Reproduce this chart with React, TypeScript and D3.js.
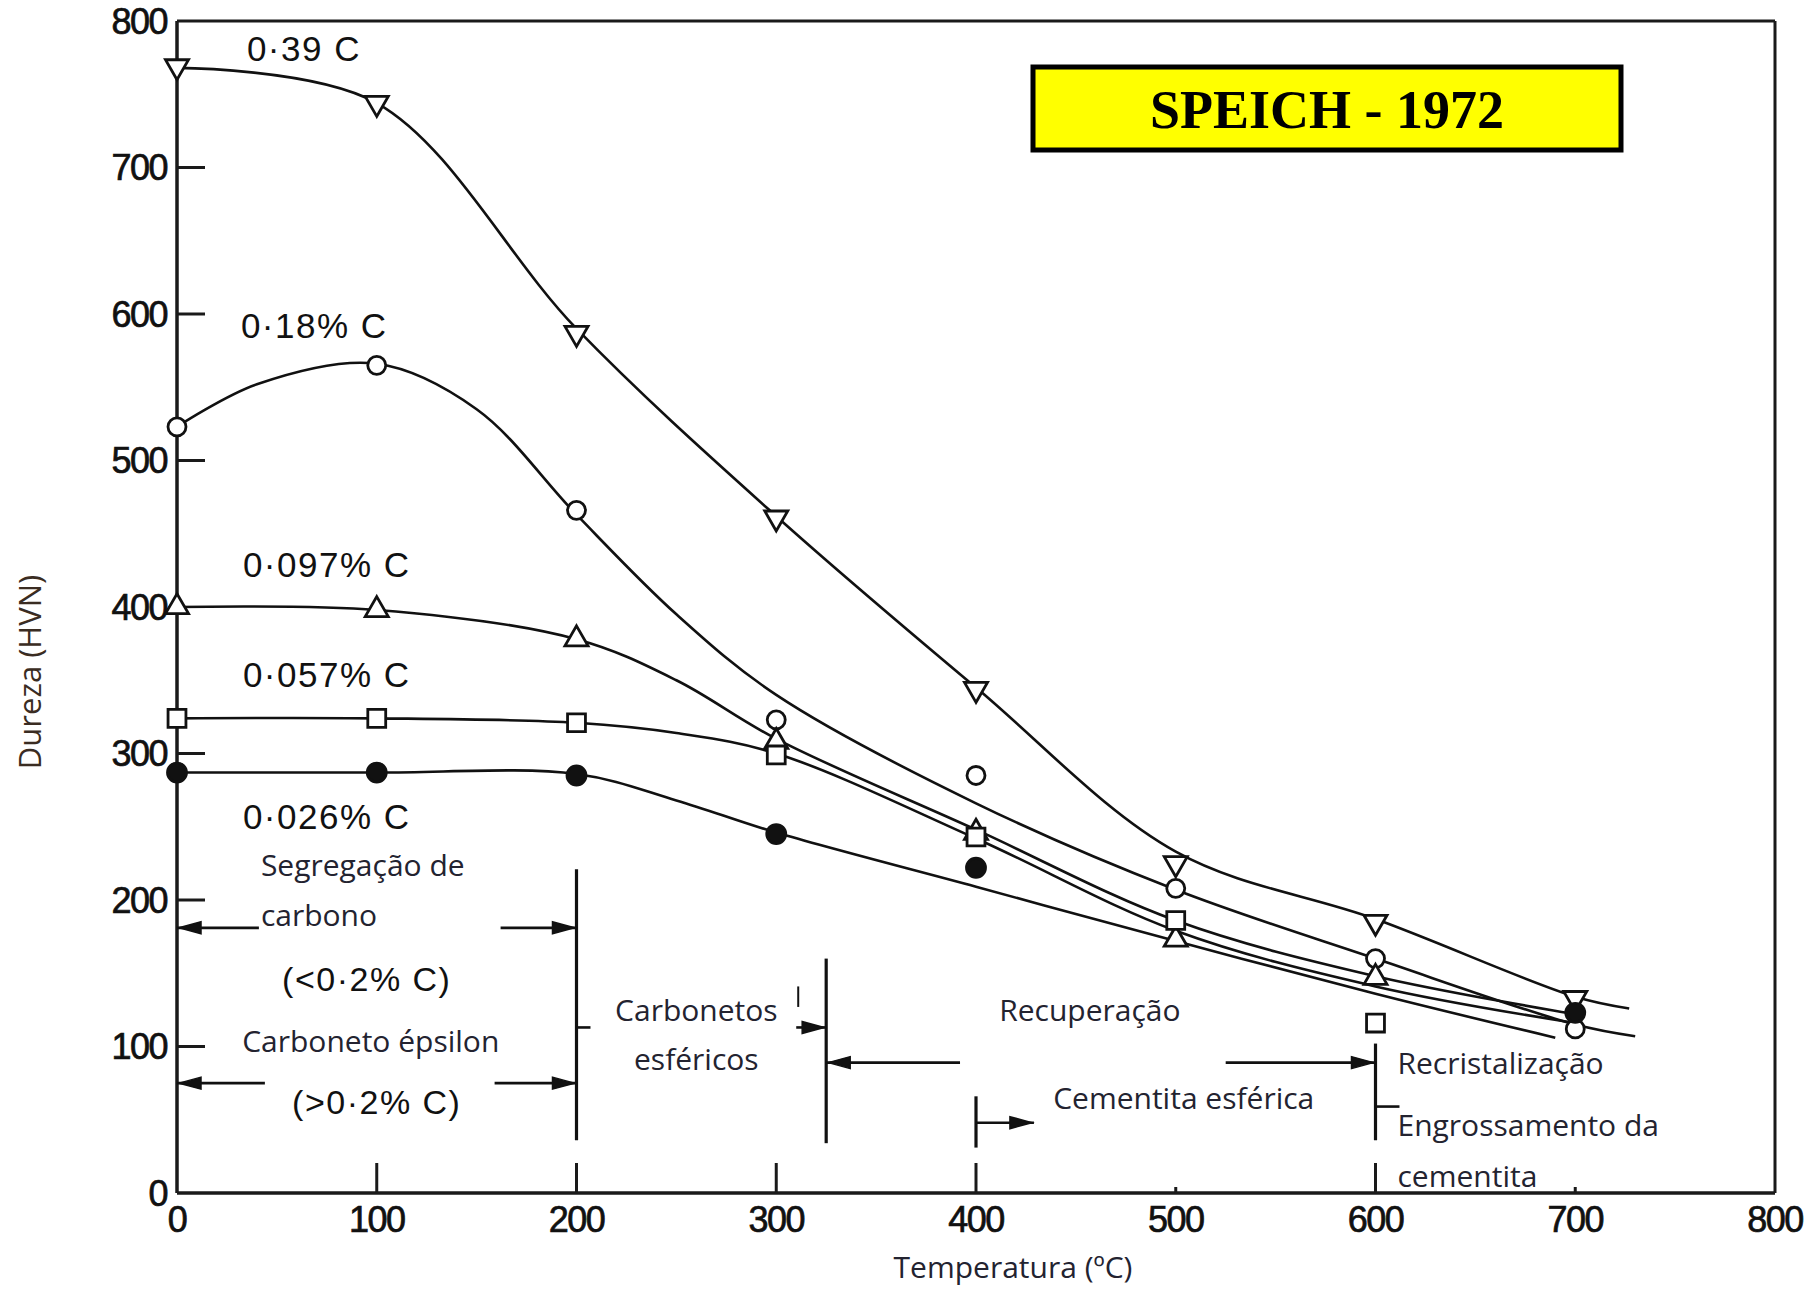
import React from "react";
import * as d3 from "d3";

// ---------- data ----------
const xTicks = [0, 100, 200, 300, 400, 500, 600, 700, 800];
const yTicks = [0, 100, 200, 300, 400, 500, 600, 700, 800];

const temps = [0, 100, 200, 300, 400, 500, 600, 700];
// marker values (HVN) per steel; null = no marker visible
const hv039 = [769, 744, 587, 461, 344, 225, 185, 133];
const hv018 = [523, 565, 466, 323, 285, 208, 160, 112];
const hv0097 = [400, 398, 378, 308, 246, 173, 147, null];
const hv0057 = [324, 324, 321, 299, 243, 186, 116, null];
const hv0026 = [287, 287, 285, 245, 222, null, null, 123];

// fitted curves (temperature, HVN)
const curve039: [number, number][] = [[0, 768], [100, 744], [200, 590], [300, 462], [400, 345], [500, 233], [600, 187], [700, 134], [727, 126]];
const curve018: [number, number][] = [[0, 523], [40, 552], [100, 566], [150, 535], [200, 463], [250, 395], [300, 340], [400, 266], [500, 207], [600, 160], [700, 115], [730, 107]];
const curve0097: [number, number][] = [[0, 400], [100, 398], [200, 378], [250, 350], [300, 310], [400, 248], [500, 186], [600, 148], [700, 122]];
const curve0057: [number, number][] = [[0, 324], [100, 324], [200, 321], [250, 314], [300, 300], [400, 242], [500, 179], [600, 141], [700, 116]];
const curve0026: [number, number][] = [[0, 287], [100, 287], [200, 286], [250, 268], [300, 246], [400, 209], [500, 172], [600, 136], [690, 106]];

const seriesNames = ["0·39 C", "0·18% C", "0·097% C", "0·057% C", "0·026% C"];
const seriesLabelAt: [number, number][] = [[35, 781], [32, 592], [33, 429], [33, 354], [33, 257]];

// annotation bars (temperature, hv from, hv to)
const vBars: [number, number, number][] = [[200, 36, 221], [325, 34, 160], [400, 31, 66], [600, 36, 102], [311, 127, 141]];
// arrows: [x from, x to, hv, head at "start" | "end" | "none"]
const arrows: [number, number, number, string][] = [
  [0, 41, 181, "start"], [162, 200, 181, "end"],
  [0, 44, 75, "start"], [159, 200, 75, "end"],
  [200, 207, 113, "none"], [310, 325, 113, "end"],
  [325, 392, 89, "start"], [400, 429, 48, "end"],
  [525, 600, 89, "end"], [600, 612, 59, "none"],
];
// texts: [text, temp, hv, anchor, font]
const notes: [string, number, number, string, string][] = [
  ["Segregação de", 42, 224, "start", "sans"],
  ["carbono", 42, 190, "start", "sans"],
  ["(<0·2% C)", 95, 146, "middle", "helv"],
  ["Carboneto épsilon", 97, 104, "middle", "sans"],
  ["(>0·2% C)", 100, 62, "middle", "helv"],
  ["Carbonetos", 260, 125, "middle", "sans"],
  ["esféricos", 260, 92, "middle", "sans"],
  ["Recuperação", 457, 125, "middle", "sans"],
  ["Cementita esférica", 504, 65, "middle", "sans"],
  ["Recristalização", 611, 89, "start", "sans"],
  ["Engrossamento da", 611, 47, "start", "sans"],
  ["cementita", 611, 12, "start", "sans"],
];

const W = 1816;
const H = 1291;

export default function App() {
  const x = d3.scaleLinear().domain([0, 800]).range([177, 1775]);
  const y = d3.scaleLinear().domain([0, 800]).range([1193, 21]);
  const line = d3
    .line<[number, number]>()
    .x((d) => x(d[0]))
    .y((d) => y(d[1]))
    .curve(d3.curveCatmullRom.alpha(0.5));

  const curves = [curve039, curve018, curve0097, curve0057, curve0026];
  const markers = [hv039, hv018, hv0097, hv0057, hv0026];
  const kinds = ["down", "circle", "up", "square", "filled"];

  const triPath = d3.symbol(d3.symbolTriangle, 230)()!;
  const sqPath = d3.symbol(d3.symbolSquare, 320)()!;

  const helv = "'Liberation Sans', Arial, sans-serif";
  const sans = "'Open Sans', 'Noto Sans', sans-serif";
  const txtCol = "#232330";

  const renderMarker = (kind: string, cx: number, cy: number, key: string) => {
    const common = { stroke: "#111", strokeWidth: 2.8 };
    if (kind === "circle")
      return <circle key={key} cx={cx} cy={cy} r={9} fill="#fff" {...common} />;
    if (kind === "filled")
      return <circle key={key} cx={cx} cy={cy} r={9.5} fill="#111" {...common} />;
    if (kind === "square")
      return <path key={key} d={sqPath} transform={`translate(${cx},${cy})`} fill="#fff" {...common} />;
    if (kind === "up")
      return <path key={key} d={triPath} transform={`translate(${cx},${cy})`} fill="#fff" {...common} />;
    return <path key={key} d={triPath} transform={`translate(${cx},${cy}) rotate(180)`} fill="#fff" {...common} />;
  };

  const arrowHead = (tipX: number, tipY: number, dir: number, key: string) => {
    const len = 22;
    const hw = 6;
    const p = `M${tipX},${tipY} L${tipX + dir * len},${tipY - hw} L${tipX + dir * len},${tipY + hw} Z`;
    return <path key={key} d={p} fill="#111" stroke="#111" strokeWidth={1.5} />;
  };

  return (
    <svg
      width={W}
      height={H}
      viewBox={`0 0 ${W} ${H}`}
      style={{ position: "absolute", left: 0, top: 0, background: "#fff" }}
    >
      <rect x={0} y={0} width={W} height={H} fill="#fff" />

      {/* frame / axes */}
      <g stroke="#1a1a1a" fill="none">
        <line x1={x(0)} y1={y(0)} x2={x(800)} y2={y(0)} strokeWidth={3.5} />
        <line x1={x(0)} y1={y(0)} x2={x(0)} y2={y(800)} strokeWidth={3.5} />
        <line x1={x(0)} y1={y(800)} x2={x(800)} y2={y(800)} strokeWidth={3} />
        <line x1={x(800)} y1={y(800)} x2={x(800)} y2={y(0)} strokeWidth={3} />
        {yTicks
          .filter((t) => t > 0 && t < 800 && t !== 400)
          .map((t) => (
            <line key={"yt" + t} x1={x(0)} y1={y(t)} x2={x(0) + 28} y2={y(t)} strokeWidth={3} />
          ))}
        {xTicks
          .filter((t) => t > 0 && t < 800)
          .map((t) => (
            <line
              key={"xt" + t}
              x1={x(t)}
              y1={y(0)}
              x2={x(t)}
              y2={y(0) - (t === 500 || t === 700 ? 6 : 30)}
              strokeWidth={3}
            />
          ))}
      </g>

      {/* tick labels */}
      <g fontFamily={helv} fontSize={36} fill="#111" stroke="#111" strokeWidth={0.7} letterSpacing={-1.5}>
        {yTicks.map((t) => (
          <text key={"yl" + t} x={x(0) - 10} y={y(t)} textAnchor="end" dominantBaseline="central">
            {t}
          </text>
        ))}
        {xTicks.map((t) => (
          <text key={"xl" + t} x={x(t)} y={y(0) + 26} textAnchor="middle" dominantBaseline="central">
            {t}
          </text>
        ))}
      </g>

      {/* axis titles */}
      <text
        x={29}
        y={672}
        transform="rotate(-90 29 672)"
        textAnchor="middle"
        dominantBaseline="central"
        fontFamily={sans}
        fontSize={31}
        fill="#3a2c22"
      >
        Dureza (HVN)
      </text>
      <text x={1013} y={1266} textAnchor="middle" dominantBaseline="central" fontFamily={sans} fontSize={30} fill={txtCol}>
        Temperatura (ºC)
      </text>

      {/* curves */}
      <g fill="none" stroke="#111" strokeWidth={2.6}>
        {curves.map((c, i) => (
          <path key={"c" + i} d={line(c) || ""} />
        ))}
      </g>

      {/* markers */}
      <g>
        {markers.map((arr, si) =>
          arr.map((v, ti) => (v == null ? null : renderMarker(kinds[si], x(temps[ti]), y(v), `m${si}-${ti}`)))
        )}
      </g>

      {/* series labels */}
      <g fontFamily={helv} fontSize={35} fill="#111" letterSpacing={1.5}>
        {seriesNames.map((s, i) => (
          <text key={"sl" + i} x={x(seriesLabelAt[i][0])} y={y(seriesLabelAt[i][1])} dominantBaseline="central">
            {s}
          </text>
        ))}
      </g>

      {/* annotation bars and arrows */}
      <g stroke="#111" fill="none">
        {vBars.map((b, i) => (
          <line key={"vb" + i} x1={x(b[0])} y1={y(b[1])} x2={x(b[0])} y2={y(b[2])} strokeWidth={i === 4 ? 2 : 3.2} />
        ))}
        {arrows.map((a, i) => (
          <line key={"ar" + i} x1={x(a[0])} y1={y(a[2])} x2={x(a[1])} y2={y(a[2])} strokeWidth={2.6} />
        ))}
      </g>
      <g>
        {arrows.map((a, i) => {
          if (a[3] === "start") return arrowHead(x(a[0]) + 2, y(a[2]), 1, "ah" + i);
          if (a[3] === "end") return arrowHead(x(a[1]) - 2, y(a[2]), -1, "ah" + i);
          return null;
        })}
      </g>

      {/* annotation texts */}
      <g>
        {notes.map((n, i) => (
          <text
            key={"n" + i}
            x={x(n[1])}
            y={y(n[2])}
            textAnchor={n[3] as any}
            dominantBaseline="central"
            fontFamily={n[4] === "helv" ? helv : sans}
            fontSize={n[4] === "helv" ? 34 : 30}
            fill={n[4] === "helv" ? "#111" : txtCol}
            letterSpacing={n[4] === "helv" ? 1.5 : 0}
          >
            {n[0]}
          </text>
        ))}
      </g>

      {/* title box */}
      <rect x={1033} y={67} width={588} height={83} fill="#ffff00" stroke="#000" strokeWidth={5} />
      <text
        x={1327}
        y={110}
        textAnchor="middle"
        dominantBaseline="central"
        fontFamily="'Liberation Serif', 'Times New Roman', serif"
        fontWeight="bold"
        fontSize={54}
        fill="#000"
      >
        SPEICH - 1972
      </text>
    </svg>
  );
}
